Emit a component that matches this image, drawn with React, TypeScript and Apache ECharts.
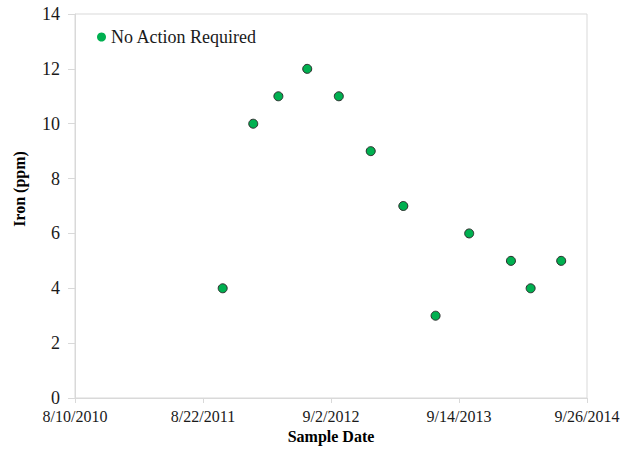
import React, { useEffect, useRef } from "react";
import * as echarts from "echarts";

const BASE_DATE = "2010-08-10";
const sampleDates = [
  "2011-10-19",
  "2012-01-17",
  "2012-03-31",
  "2012-06-24",
  "2012-09-25",
  "2012-12-28",
  "2013-04-03",
  "2013-07-07",
  "2013-10-14",
  "2014-02-14",
  "2014-04-13",
  "2014-07-12",
];
const ironValues = [4, 10, 11, 12, 11, 9, 7, 3, 6, 5, 4, 5];
const xTickIntervalDays = 377;
const xTickCount = 4;
const yTicks = [0, 2, 4, 6, 8, 10, 12, 14];

const DAY = 86400000;
const baseMs = Date.parse(BASE_DATE + "T00:00:00Z");
const toDays = (d: string) => Math.round((Date.parse(d + "T00:00:00Z") - baseMs) / DAY);
const fmtDate = (days: number) => {
  const dt = new Date(baseMs + days * DAY);
  return `${dt.getUTCMonth() + 1}/${dt.getUTCDate()}/${dt.getUTCFullYear()}`;
};

export default function App() {
  const ref = useRef<HTMLDivElement>(null);
  useEffect(() => {
    document.body.style.margin = "0";
    if (!ref.current) return;
    const chart = echarts.init(ref.current, undefined, { renderer: "svg" });
    const font = "'Liberation Serif', 'Times New Roman', serif";
    const axisColor = "#d9d9d9";
    const labelColor = "#1a1a1a";
    chart.setOption({
      animation: false,
      textStyle: { fontFamily: font },
      grid: {
        left: 75,
        right: 44,
        top: 14,
        bottom: 56,
        show: true,
        borderColor: axisColor,
        borderWidth: 1,
        containLabel: false,
      },
      legend: {
        show: true,
        left: 92,
        top: 23,
        icon: "circle",
        itemWidth: 9,
        itemHeight: 9,
        itemStyle: { borderWidth: 0, color: "#00b050" },
        textStyle: { fontFamily: font, fontSize: 18, color: labelColor },
        data: ["No Action Required"],
      },
      xAxis: {
        type: "value",
        min: 0,
        max: xTickIntervalDays * xTickCount,
        interval: xTickIntervalDays,
        name: "Sample Date",
        nameLocation: "middle",
        nameGap: 30,
        nameTextStyle: { fontFamily: font, fontSize: 16, fontWeight: "bold", color: "#000" },
        axisLine: { show: true, lineStyle: { color: axisColor, width: 1 } },
        axisTick: { show: true, length: 5, lineStyle: { color: axisColor } },
        splitLine: { show: false },
        axisLabel: {
          fontFamily: font,
          fontSize: 16,
          color: labelColor,
          margin: 10,
          formatter: (v: number) => fmtDate(v),
        },
      },
      yAxis: {
        type: "value",
        min: yTicks[0],
        max: yTicks[yTicks.length - 1],
        interval: 2,
        name: "Iron (ppm)",
        nameLocation: "middle",
        nameGap: 48,
        nameTextStyle: {
          fontFamily: font,
          fontSize: 16,
          fontWeight: "bold",
          color: "#000",
          padding: [0, 0, 0, 34],
        },
        axisLine: { show: true, lineStyle: { color: axisColor, width: 1 } },
        axisTick: { show: true, length: 7, lineStyle: { color: axisColor } },
        splitLine: { show: false },
        axisLabel: { fontFamily: font, fontSize: 18, color: labelColor, margin: 15 },
      },
      series: [
        {
          name: "No Action Required",
          type: "scatter",
          symbol: "circle",
          symbolSize: 9,
          itemStyle: { color: "#00b050", opacity: 1, borderColor: "#2b2b2b", borderWidth: 1 },
          data: sampleDates.map((d, i) => [toDays(d), ironValues[i]]),
        },
      ],
    });
    return () => chart.dispose();
  }, []);
  return <div ref={ref} style={{ width: 631, height: 454 }} />;
}
